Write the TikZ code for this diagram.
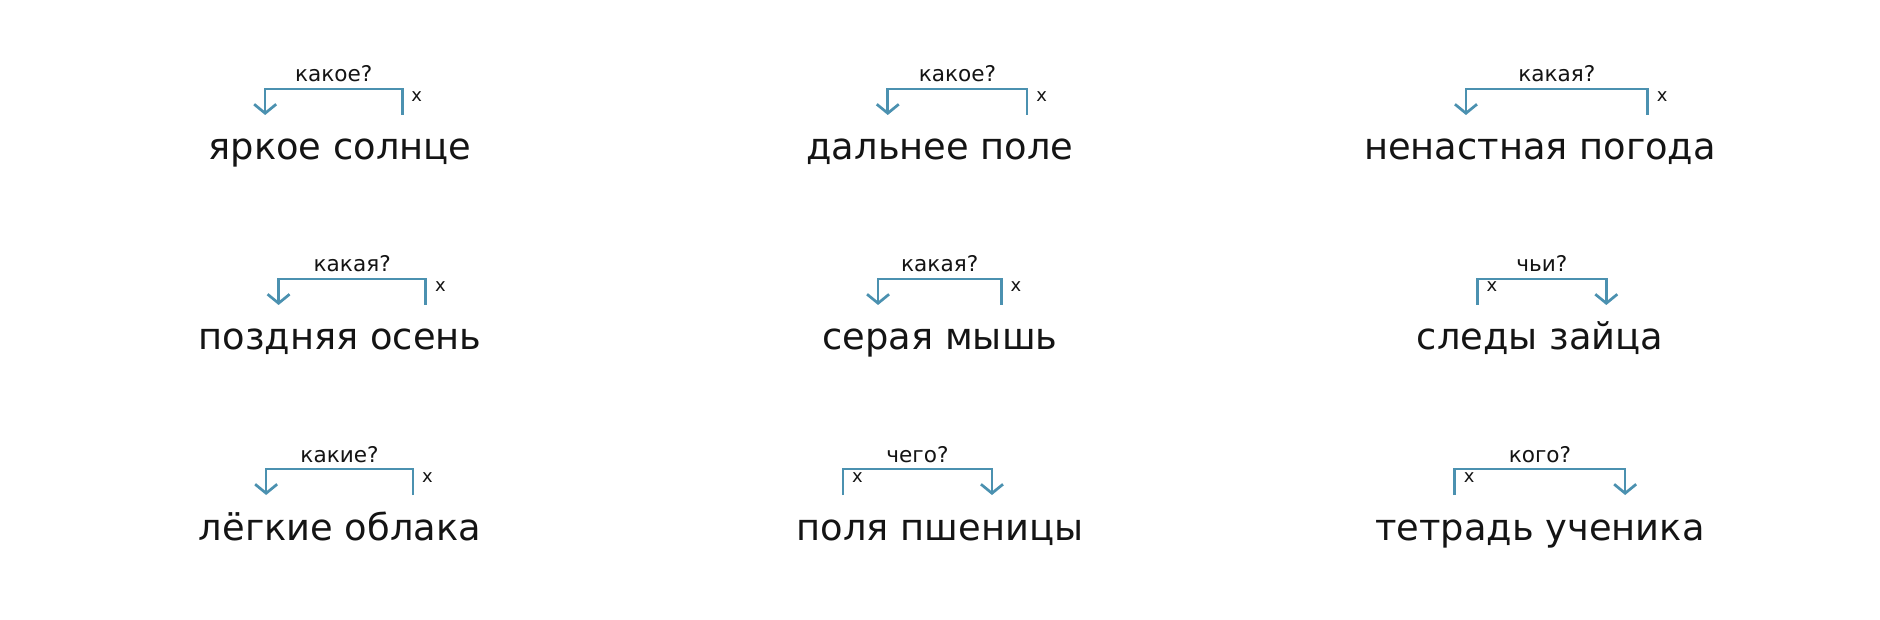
\documentclass[tikz,border=0pt]{standalone}
\usepackage{fontspec}
\setmainfont{DejaVu Sans}
\usetikzlibrary{arrows.meta,calc}
\definecolor{linkblue}{RGB}{75,145,176}
\definecolor{inkgray}{RGB}{20,20,20}
\newdimen\halfphrasewd
\newsavebox\phrasebox
\font\phrasemeasurefont="DejaVu Sans" at 36.8pt
\newcommand\phrasefont{\fontsize{36.8}{42}\selectfont}
% #1 name, #2 centre x, #3 baseline y, #4 first word, #5 second word
\newcommand\putphrase[5]{%
  \pgfinterruptpicture
    \global\setbox\phrasebox=\hbox{\phrasemeasurefont #4\ #5}%
  \endpgfinterruptpicture
  \global\halfphrasewd=\wd\phrasebox
  \global\divide\halfphrasewd by 2
  \node[word, anchor=base west] (#1a) at ($(#2,#3)+(-\halfphrasewd,0pt)$) {#4};
  \node[word, anchor=base east] (#1b) at ($(#2,#3)+(\halfphrasewd,0pt)$) {#5};
}
% #1 head word node (x mark), #2 dependent word node (arrow), #3 question
\newcommand\putlink[3]{%
  \draw[link] ([yshift=45pt]#1.base) |- ([yshift=71pt]#2.base)
      node[pos=0.75, qlabel] {#3}
      -- ([yshift=45pt]#2.base);
  \node[xmark] at ([xshift=9pt, yshift=58pt]#1.base) {x};
}
\tikzset{
  word/.style={inner sep=0pt, outer sep=0pt, text=inkgray, font=\phrasefont},
  link/.style={draw=linkblue, line width=2.7pt,
    -{Straight Barb[length=9pt, width=22pt]}},
  qlabel/.style={anchor=base, yshift=7pt, inner sep=0pt, text=inkgray,
    font=\fontsize{21.6}{25}\selectfont},
  xmark/.style={anchor=base west, inner sep=0pt, text=inkgray,
    font=\fontsize{18}{22}\selectfont},
}
\begin{document}
\begin{tikzpicture}[x=1pt, y=-1pt]
  \useasboundingbox[fill=white] (0,0) rectangle (1880,620);
  % row 1
  \putphrase{p1}{340}{160}{яркое}{солнце}
  \putlink{p1b}{p1a}{какое?}
  \putphrase{p2}{940}{160}{дальнее}{поле}
  \putlink{p2b}{p2a}{какое?}
  \putphrase{p3}{1540}{160}{ненастная}{погода}
  \putlink{p3b}{p3a}{какая?}
  % row 2
  \putphrase{p4}{340}{350}{поздняя}{осень}
  \putlink{p4b}{p4a}{какая?}
  \putphrase{p5}{940}{350}{серая}{мышь}
  \putlink{p5b}{p5a}{какая?}
  \putphrase{p6}{1540}{350}{следы}{зайца}
  \putlink{p6a}{p6b}{чьи?}
  % row 3
  \putphrase{p7}{340}{540}{лёгкие}{облака}
  \putlink{p7b}{p7a}{какие?}
  \putphrase{p8}{940}{540}{поля}{пшеницы}
  \putlink{p8a}{p8b}{чего?}
  \putphrase{p9}{1540}{540}{тетрадь}{ученика}
  \putlink{p9a}{p9b}{кого?}
\end{tikzpicture}
\end{document}
